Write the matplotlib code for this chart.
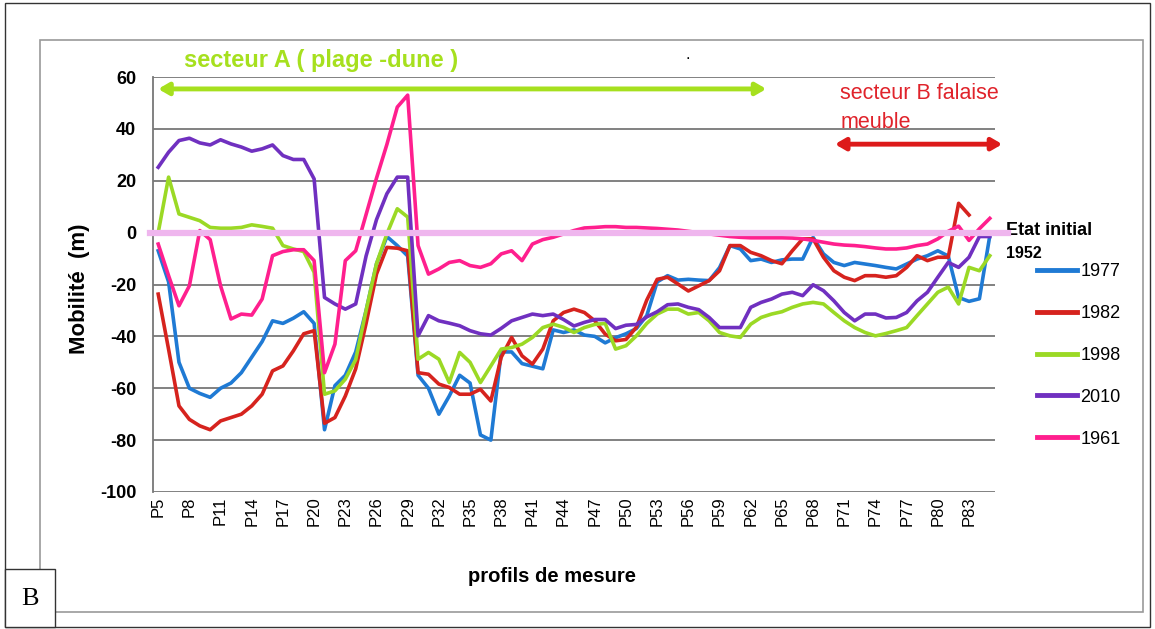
import numpy as np
import matplotlib.pyplot as plt
from matplotlib.patches import Rectangle

plt.rcParams['font.family'] = ['Liberation Sans', 'DejaVu Sans']
plt.rcParams['axes.unicode_minus'] = False

# profils P5 .. P85
profils = ['P%d' % i for i in range(5, 86)]

mob_1977 = [-7, -19, -50, -60, -62, -63.5, -60, -58, -54, -48,
            -42, -34, -35, -33, -30.5, -35, -76, -59, -55, -46,
            -30, -12, -1.5, -5, -9, -55, -60, -70, -63, -55,
            -58, -78, -80, -46, -46, -50.5, -51.5, -52.5, -37.5, -38.5,
            -37.5, -39.5, -40, -42.5, -40.5, -39, -37, -32, -19, -16.6,
            -18.3, -18, -18.3, -18.5, -13.5, -5, -6.3, -10.8, -10.2, -11.5,
            -10.5, -10.2, -10.2, -1.8, -8.2, -11.5, -12.7, -11.5, -12.1, -12.7,
            -13.4, -14, -12.1, -10.2, -8.9, -7, -9, -25, -26.5, -25.5,
            -1.2]
mob_1982 = [-23.7, -45, -66.8, -72, -74.5, -76, -72.6, -71.3, -70, -66.8,
            -62.3, -53.3, -51.4, -45.6, -39, -37.8, -73.5, -71.3, -63, -52.5,
            -35, -16, -5.7, -6, -7, -54, -54.6, -58.4, -59.7, -62.3,
            -62.3, -60.4, -64.9, -48, -40.4, -47.5, -50.7, -44.9, -34, -30.8,
            -29.5, -30.8, -34, -39.1, -41.7, -41.2, -36.5, -26, -18, -17.2,
            -19.8, -22.5, -20.5, -18.5, -14.7, -5, -5, -7.6, -8.9, -10.8,
            -12, -7, -2.4, -2.4, -9.5, -14.7, -17.2, -18.5, -16.6, -16.6,
            -17.2, -16.6, -13.4, -8.9, -10.8, -9.5, -9.5, 11.3, 6.8, np.nan,
            np.nan]
mob_1998 = [0, 21.4, 7.2, 5.9, 4.6, 2, 1.7, 1.7, 2, 3,
            2.4, 1.7, -5, -6.3, -7.3, -15.3, -62.3, -61, -56.5, -49,
            -30, -12, -0.5, 9.2, 6, -48.8, -46.2, -48.8, -57.8, -46.2,
            -50, -57.8, -51.4, -44.9, -44.3, -43, -40.4, -36.6, -35.3, -36.5,
            -38.5, -36.6, -35.4, -35, -44.9, -43.6, -39.8, -35, -31.4, -29.5,
            -29.5, -31.4, -30.8, -34, -38.5, -39.8, -40.4, -35.3, -32.7, -31.4,
            -30.5, -28.8, -27.5, -26.9, -27.5, -30.8, -34, -36.6, -38.5, -39.8,
            -38.9, -37.8, -36.6, -32, -27.5, -23, -21, -27.5, -13.4, -14.7,
            -8.9]
mob_2010 = [25.2, 31, 35.5, 36.4, 34.6, 33.8, 35.8, 34.2, 33, 31.4,
            32.3, 33.8, 29.7, 28.2, 28.2, 20.7, -25, -27.5, -29.5, -27.5,
            -9, 5, 15, 21.4, 21.4, -39.8, -32, -34, -34.9, -35.9,
            -37.8, -39, -39.5, -36.9, -34, -32.7, -31.4, -32, -31.4, -33.5,
            -36, -34.6, -33.5, -33.5, -37, -35.7, -35.4, -32.5, -30.5, -27.8,
            -27.5, -28.8, -29.7, -32.7, -36.6, -36.6, -36.6, -28.8, -26.9, -25.6,
            -23.7, -23, -24.3, -20.1, -22.4, -26.3, -30.8, -34, -31.4, -31.4,
            -32.9, -32.7, -30.8, -26.3, -23, -17.2, -11.5, -13.4, -9.5, -1.5,
            -1.5]
mob_1961 = [-4.4, -16.6, -28.2, -20.5, 0.8, -2.7, -20.5, -33.3, -31.4, -31.8,
            -25.6, -8.9, -7.3, -6.6, -6.6, -10.8, -54, -43, -10.8, -7,
            7, 21, 34, 48.4, 53, -5, -16, -14, -11.5, -10.8,
            -12.7, -13.4, -12, -8.2, -7, -10.8, -4.4, -2.7, -1.8, -0.5,
            0.8, 1.8, 2, 2.3, 2.3, 2, 2, 1.8, 1.6, 1.3,
            1, 0.5, 0, -0.5, -1, -1.5, -1.8, -2, -2, -2,
            -2, -2.1, -2.4, -3, -3.7, -4.4, -4.8, -5, -5.4, -5.9,
            -6.3, -6.3, -5.9, -5, -4.4, -2.4, 0.5, 2.5, -3, 1.5,
            5.5]
etat_initial = 0

series = [('1977', mob_1977, '#1f7ad4'),
          ('1982', mob_1982, '#d6231e'),
          ('1998', mob_1998, '#9bd925'),
          ('2010', mob_2010, '#7030c0'),
          ('1961', mob_1961, '#ff1f8e')]

x = np.arange(len(profils))

fig = plt.figure(figsize=(11.55, 6.29), dpi=100)
ax = fig.add_axes([153 / 1155, 1 - 492 / 629, 842 / 1155, 415 / 629])

handles = []
for name, vals, col in series:
    h, = ax.plot(x, vals, color=col, lw=2.6, solid_joinstyle='round', label=name, zorder=3)
    handles.append(h)

# reference line (etat initial 1952)
ax.axhline(etat_initial, xmin=-0.004, xmax=1.015, color='#efb6ee', lw=4.5, zorder=4, clip_on=False)
ax.text(len(profils) + 0.6, etat_initial + 0.8, 'Etat initial', fontsize=13, fontweight='bold',
        ha='left', va='center')
ax.text(len(profils) + 0.6, etat_initial - 8.2, '1952', fontsize=11.5, fontweight='bold',
        ha='left', va='center')

ax.set_xlim(-0.5, len(profils) - 0.5)
ax.set_ylim(-100, 60)
ax.set_yticks(np.arange(-100, 61, 20))
ax.set_xticks(x[::3])
ax.set_xticklabels(profils[::3], rotation=90, fontsize=12)
ax.tick_params(axis='x', length=0, pad=3)
ax.tick_params(axis='y', length=0, pad=12, labelsize=13)
for t in ax.get_yticklabels():
    t.set_fontweight('bold')
ax.grid(axis='y', color='#777777', lw=1.3)
ax.set_axisbelow(True)
for s in ['top', 'right', 'bottom']:
    ax.spines[s].set_visible(False)
ax.spines['left'].set_color('#777777')
ax.spines['left'].set_linewidth(1.3)

ax.set_ylabel('Mobilité  (m)', fontsize=16, fontweight='bold')
ax.yaxis.set_label_coords(-0.075, 0.49)
ax.set_xlabel('profils de mesure', fontsize=14.5, fontweight='bold')
ax.xaxis.set_label_coords(0.474, -0.18)

leg = ax.legend(handles=handles, loc='upper left', bbox_to_anchor=(1028 / 1155, 1 - 254 / 629),
                bbox_transform=fig.transFigure, frameon=False, fontsize=13,
                handlelength=2.2, handletextpad=0.2, labelspacing=1.38, borderpad=0)
for ln in leg.get_lines():
    ln.set_linewidth(3.5)

# secteur A
ax.text(2.5, 66.5, 'secteur A ( plage -dune )', color='#a6e01e', fontsize=17,
        fontweight='bold', ha='left', va='center')
ax.annotate('', xy=(0, 55.4), xytext=(58.5, 55.4), annotation_clip=False,
            arrowprops=dict(arrowstyle='<|-|>,head_length=0.6,head_width=0.35', color='#a6e01e',
                            lw=3.5, shrinkA=0, shrinkB=0))
# secteur B
ax.text(65.6, 57.5, 'secteur B falaise\nmeuble', color='#e0232b', fontsize=15.5,
        ha='left', va='top', linespacing=1.45)
ax.annotate('', xy=(65.1, 34.1), xytext=(81.2, 34.1), annotation_clip=False,
            arrowprops=dict(arrowstyle='<|-|>,head_length=0.6,head_width=0.35', color='#dd1a1a',
                            lw=3.5, shrinkA=0, shrinkB=0))
fig.text(688 / 1155, 1 - 62 / 629, '.', fontsize=12, ha='center', va='bottom')

# frames
fig.patches.append(Rectangle((40 / 1155, 1 - 612 / 629), 1103 / 1155, 572 / 629,
                             transform=fig.transFigure, fill=False, ec='#9a9a9a', lw=1.2))
fig.patches.append(Rectangle((5 / 1155, 1 - 627 / 629), 1145 / 1155, 624 / 629,
                             transform=fig.transFigure, fill=False, ec='#333333', lw=1.0))
fig.patches.append(Rectangle((5 / 1155, 1 - 627 / 629), 50 / 1155, 58 / 629,
                             transform=fig.transFigure, fc='white', ec='#333333', lw=1.0))
fig.text(30 / 1155, 1 - 599 / 629, 'B', fontsize=19, family='Liberation Serif',
         ha='center', va='center')

fig.savefig('out.png', dpi=100)
